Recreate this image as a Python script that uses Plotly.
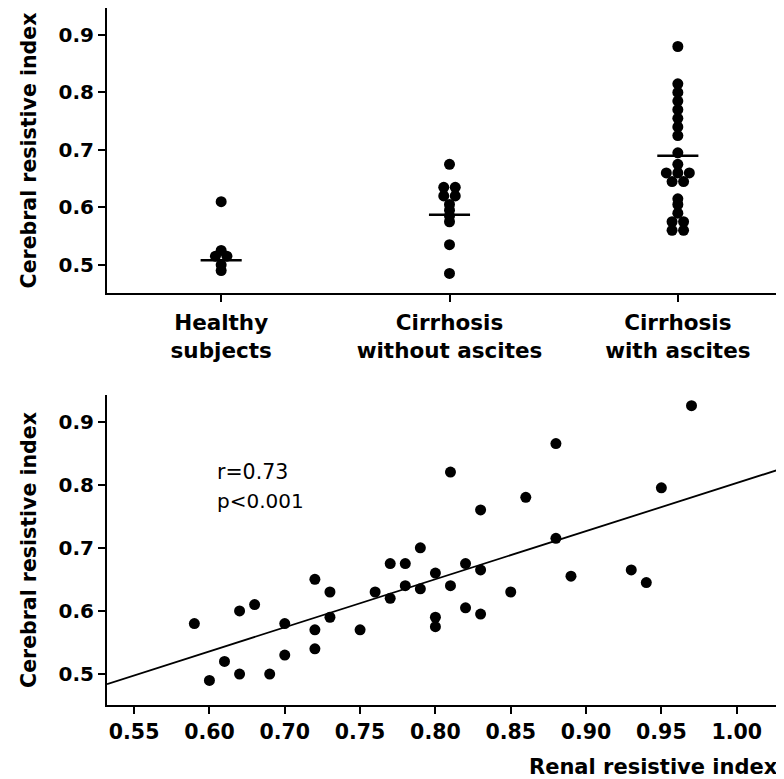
import numpy as np
import plotly.graph_objects as go

# ---------------- data ----------------
categories = ["Healthy<br>subjects", "Cirrhosis<br>without ascites", "Cirrhosis<br>with ascites"]
healthy = [0.61, 0.525, 0.515, 0.515, 0.50, 0.49]
no_ascites = [0.675, 0.635, 0.635, 0.62, 0.62, 0.605, 0.595, 0.585, 0.575, 0.535, 0.485]
with_ascites = [0.88, 0.815, 0.80, 0.785, 0.77, 0.755, 0.74, 0.725, 0.695, 0.675,
                0.66, 0.66, 0.66, 0.645, 0.645, 0.615, 0.605, 0.59, 0.575, 0.575, 0.56, 0.56]
group_means = [0.508, 0.587, 0.69]

renal_ri = [0.64, 0.65, 0.66, 0.67, 0.67, 0.68, 0.69, 0.70, 0.70, 0.72, 0.72, 0.72, 0.73, 0.73,
            0.75, 0.76, 0.77, 0.77, 0.78, 0.78, 0.79, 0.79, 0.80, 0.80, 0.80, 0.81, 0.81, 0.82,
            0.82, 0.83, 0.83, 0.83, 0.85, 0.86, 0.88, 0.88, 0.89, 0.93, 0.94, 0.95, 0.97]
cerebral_ri = [0.58, 0.49, 0.52, 0.60, 0.50, 0.61, 0.50, 0.58, 0.53, 0.65, 0.57, 0.54, 0.63, 0.59,
               0.57, 0.63, 0.675, 0.62, 0.675, 0.64, 0.70, 0.635, 0.66, 0.59, 0.575, 0.82, 0.64, 0.675,
               0.605, 0.76, 0.665, 0.595, 0.63, 0.78, 0.865, 0.715, 0.655, 0.665, 0.645, 0.795, 0.925]
fit_slope = 0.762
fit_intercept = 0.0406

y_ticks = [0.5, 0.6, 0.7, 0.8, 0.9]
x2_tickvals = [0.60, 0.65, 0.70, 0.75, 0.80, 0.85, 0.90, 0.95, 1.00]
x2_ticktext = ["0.55", "0.60", "0.70", "0.75", "0.80", "0.85", "0.90", "0.95", "1.00"]

# ---------------- layout constants ----------------
# the page body has an 8px default margin, so the figure starts at (8, 8)
OFF = 8
W, H = 784 - OFF, 779 - OFF
ML, MR, MT, MB = 107 - OFF, 0, 0, 779 - 705
plot_w = W - ML - MR
plot_h = H - MT - MB
top_x_range = [-0.5, 2.465]
top_y_range = [0.451, 0.947]
bot_x_range = [0.582, 1.0314]
bot_y_range = [0.451, 0.942]

def py2paper(py_ref):
    return (705 - py_ref) / plot_h

def px2paper(px_ref):
    return (px_ref - 107) / plot_w

top_dom = [py2paper(293), 1.0]
bot_dom = [0.0, py2paper(395)]

cat_px = plot_w / (top_x_range[1] - top_x_range[0])  # pixels per category unit

def swarm(values, center, spacing_px=11.5):
    xs = []
    counts = {}
    for v in values:
        counts[v] = counts.get(v, 0) + 1
    seen = {}
    for v in values:
        n = counts[v]
        k = seen.get(v, 0)
        seen[v] = k + 1
        xs.append(center + (k - (n - 1) / 2) * spacing_px / cat_px)
    return xs

BLACK = "#000000"

def bold(size):
    return dict(family="DejaVu Sans", size=size, color=BLACK, weight="bold")

fig = go.Figure()

groups = [healthy, no_ascites, with_ascites]
for i, g in enumerate(groups):
    fig.add_trace(go.Scatter(
        x=swarm(g, i), y=g, mode="markers",
        marker=dict(color=BLACK, size=11, line=dict(width=0)),
        xaxis="x", yaxis="y", showlegend=False, hoverinfo="skip"))

mx, my = [], []
for i, m in enumerate(group_means):
    mx += [i - 0.09, i + 0.09, None]
    my += [m, m, None]
fig.add_trace(go.Scatter(x=mx, y=my, mode="lines", line=dict(color=BLACK, width=2.5),
                         xaxis="x", yaxis="y", showlegend=False, hoverinfo="skip"))

fig.add_trace(go.Scatter(
    x=renal_ri, y=cerebral_ri, mode="markers",
    marker=dict(color=BLACK, size=11, line=dict(width=0)),
    xaxis="x2", yaxis="y2", showlegend=False, hoverinfo="skip"))

lx = np.array(bot_x_range)
fig.add_trace(go.Scatter(x=lx, y=fit_intercept + fit_slope * lx, mode="lines",
                         line=dict(color=BLACK, width=1.8),
                         xaxis="x2", yaxis="y2", showlegend=False, hoverinfo="skip"))

axis_common = dict(showline=True, linecolor=BLACK, linewidth=2, ticks="outside",
                   ticklen=7, tickwidth=1.5, tickcolor=BLACK, showgrid=False,
                   zeroline=False)

fig.update_layout(
    width=W, height=H,
    margin=dict(l=ML, r=MR, t=MT, b=MB, pad=0),
    paper_bgcolor="white", plot_bgcolor="white",
    showlegend=False,
    xaxis=dict(domain=[0, 1], range=top_x_range, tickvals=[0, 1, 2], ticktext=categories,
               anchor="y", ticklabelstandoff=2, tickfont=bold(21.5), **axis_common),
    yaxis=dict(domain=top_dom, range=top_y_range, tickvals=y_ticks,
               ticktext=[f"{v:.1f}" for v in y_ticks], anchor="x", tickfont=bold(20),
               title=dict(text="Cerebral resistive index", font=bold(20.5), standoff=16),
               **axis_common),
    xaxis2=dict(domain=[0, 1], range=bot_x_range, tickvals=x2_tickvals, ticktext=x2_ticktext,
                anchor="y2", ticklabelstandoff=0, tickfont=bold(20.5), **axis_common),
    yaxis2=dict(domain=bot_dom, range=bot_y_range, tickvals=y_ticks,
                ticktext=[f"{v:.1f}" for v in y_ticks], anchor="x2", tickfont=bold(20),
                title=dict(text="Cerebral resistive index", font=bold(20.5), standoff=16),
                **axis_common),
    annotations=[
        dict(text="r=0.73", x=0.654, y=0.820, xref="x2", yref="y2", xanchor="left",
             yanchor="middle", showarrow=False,
             font=dict(family="DejaVu Sans", size=20.5, color=BLACK)),
        dict(text="p<0.001", x=0.654, y=0.774, xref="x2", yref="y2", xanchor="left",
             yanchor="middle", showarrow=False,
             font=dict(family="DejaVu Sans", size=20, color=BLACK)),
        dict(text="Renal resistive index", x=px2paper(780), y=py2paper(767),
             xref="paper", yref="paper", xanchor="right", yanchor="middle",
             showarrow=False, font=bold(21)),
    ],
)

fig.write_html("out.html")
